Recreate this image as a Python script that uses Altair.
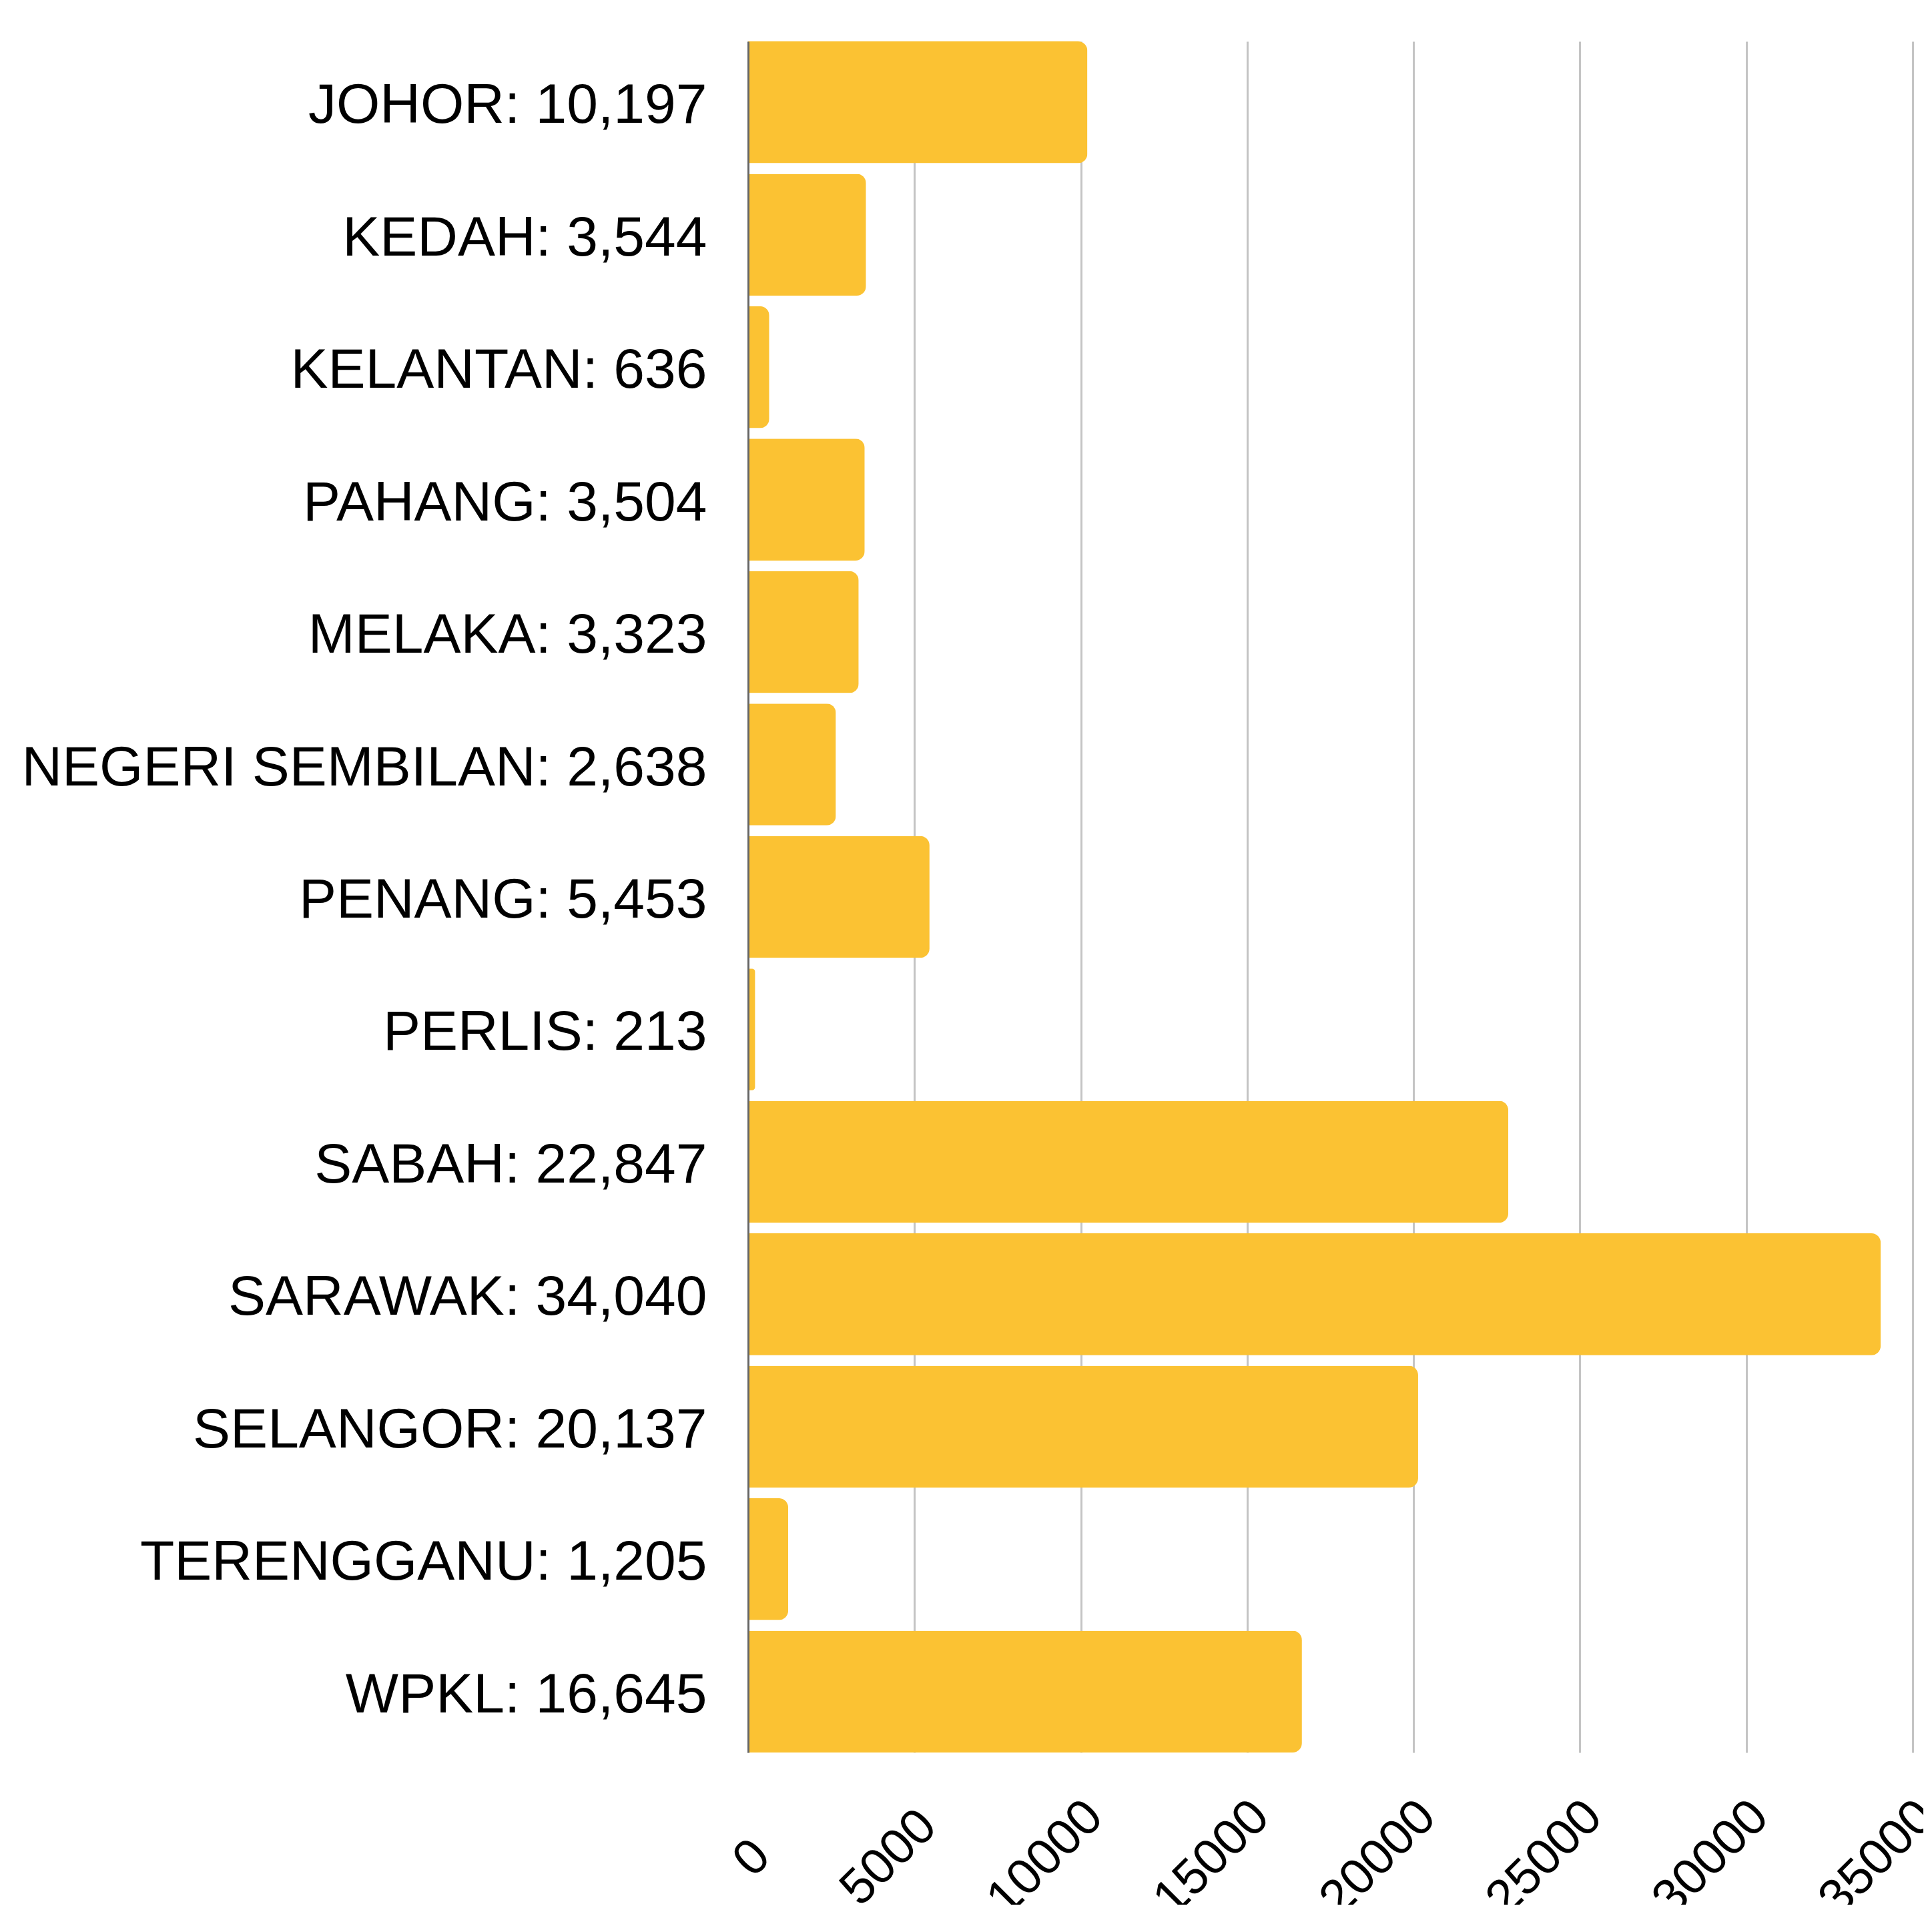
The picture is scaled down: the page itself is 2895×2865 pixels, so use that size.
import altair as alt
import pandas as pd

states = ["JOHOR", "KEDAH", "KELANTAN", "PAHANG", "MELAKA", "NEGERI SEMBILAN",
          "PENANG", "PERLIS", "SABAH", "SARAWAK", "SELANGOR", "TERENGGANU", "WPKL"]
values = [10197, 3544, 636, 3504, 3323, 2638, 5453, 213, 22847, 34040, 20137, 1205, 16645]
x_ticks = [0, 5000, 10000, 15000, 20000, 25000, 30000, 35000]

labels = [f"{s}: {v:,}" for s, v in zip(states, values)]
df = pd.DataFrame({"state": states, "value": values, "label": labels})

FONT = "Liberation Sans"

chart = alt.Chart(df).mark_bar(color="#fbc233", cornerRadiusEnd=14).encode(
    x=alt.X(
        "value:Q",
        scale=alt.Scale(domain=[0, 35000], nice=False, zero=True),
        axis=alt.Axis(
            values=x_ticks, format="d", title=None, domain=False,
            ticks=False, tickSize=0, grid=True, gridColor="#c4c4c4", gridWidth=3,
            labelAngle=-45, labelAlign="right", labelBaseline="middle",
            labelFontSize=75, labelFont=FONT, labelColor="#000000",
            labelOffset=20, labelLimit=2000,
            labelPadding={"condition": [{"test": "datum.value == 0", "value": 143},
                                        {"test": "datum.value < 10000", "value": 98}],
                          "value": 84},
            labelFlush=False, labelOverlap=False,
        ),
    ),
    y=alt.Y(
        "label:N", sort=labels,
        scale=alt.Scale(paddingInner=0.08, paddingOuter=0),
        axis=alt.Axis(
            title=None, domainColor="#666666", domainWidth=3, ticks=False, tickSize=0,
            labelPadding=62, labelFontSize=84, labelFont=FONT, labelColor="#000000",
            labelLimit=3000, labelOffset=6, grid=False, zindex=1,
        ),
    ),
).properties(
    width=1745, height=2564,
    autosize=alt.AutoSizeParams(type="none"),
    padding={"left": 1113, "top": 54, "right": 16, "bottom": 228},
).configure_view(stroke=None)

chart.save("out.html", embed_options={"renderer": "svg", "actions": False})
